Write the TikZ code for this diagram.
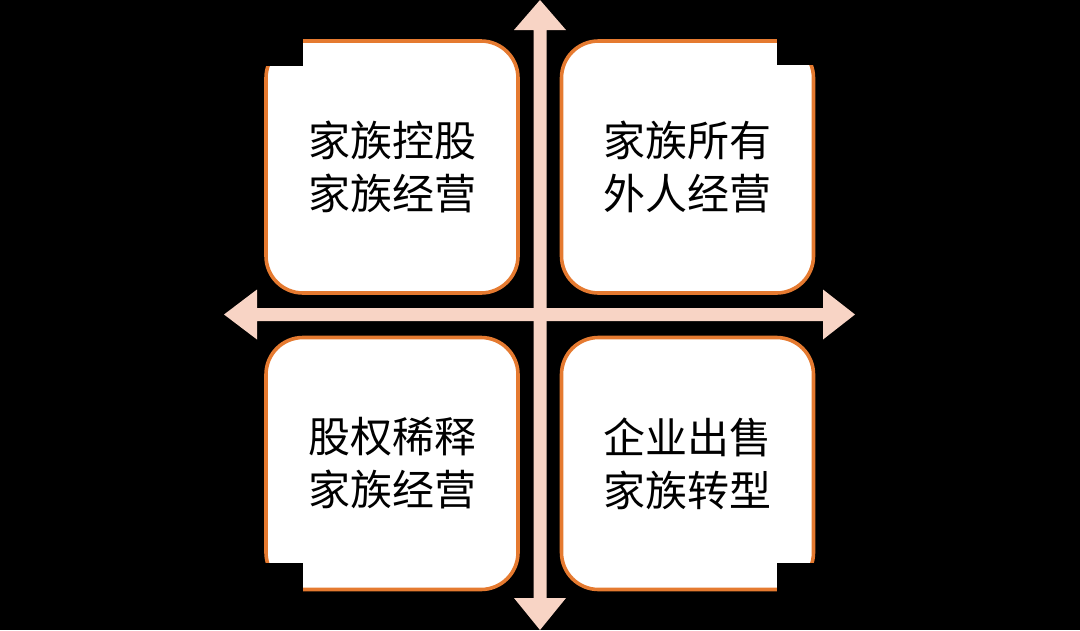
\documentclass[tikz,border=0pt]{standalone}
\usepackage{fontspec}
\newfontfamily\cjk{Noto Sans CJK SC}
\definecolor{boxorange}{HTML}{E57A30}
\definecolor{arrowpink}{HTML}{F8D4C5}
\begin{document}
\begin{tikzpicture}[x=1pt,y=-1pt,
  quad/.style={draw=boxorange, line width=3.6pt, fill=white, rounded corners=37pt,
    minimum width=252pt, minimum height=252pt, inner sep=0pt, outer sep=0pt,
    align=center, font=\cjk\fontsize{42}{53}\selectfont, text=black},
  notch/.style={fill=black, draw=none},
  blockarrow/.style={fill=arrowpink, draw=none}]
% background
\fill[black] (0,0) rectangle (1080,630);
\useasboundingbox (0,0) rectangle (1080,630);
% quadrants
\node[quad] (tl) at (392,167) {家族控股\\家族经营};
\node[quad] (tr) at (687.5,167) {家族所有\\外人经营};
\node[quad] (bl) at (392,463.5) {股权稀释\\家族经营};
\node[quad] (br) at (687.5,463.5) {企业出售\\家族转型};
% corner notches
\fill[notch] (255,30) rectangle (303,66);
\fill[notch] (777,30) rectangle (825,65);
\fill[notch] (255,563) rectangle (303,600);
\fill[notch] (777,563) rectangle (825,600);
% vertical double arrow
\fill[blockarrow] (540,0) -- (566,30) -- (546.5,30) -- (546.5,598) -- (566,598) -- (540,630)
  -- (514,598) -- (533.5,598) -- (533.5,30) -- (514,30) -- cycle;
% horizontal double arrow
\fill[blockarrow] (224,314.5) -- (257,289.5) -- (257,308) -- (823,308) -- (823,289.5) -- (855,314.5)
  -- (823,339.5) -- (823,321) -- (257,321) -- (257,339.5) -- cycle;
\end{tikzpicture}
\end{document}
